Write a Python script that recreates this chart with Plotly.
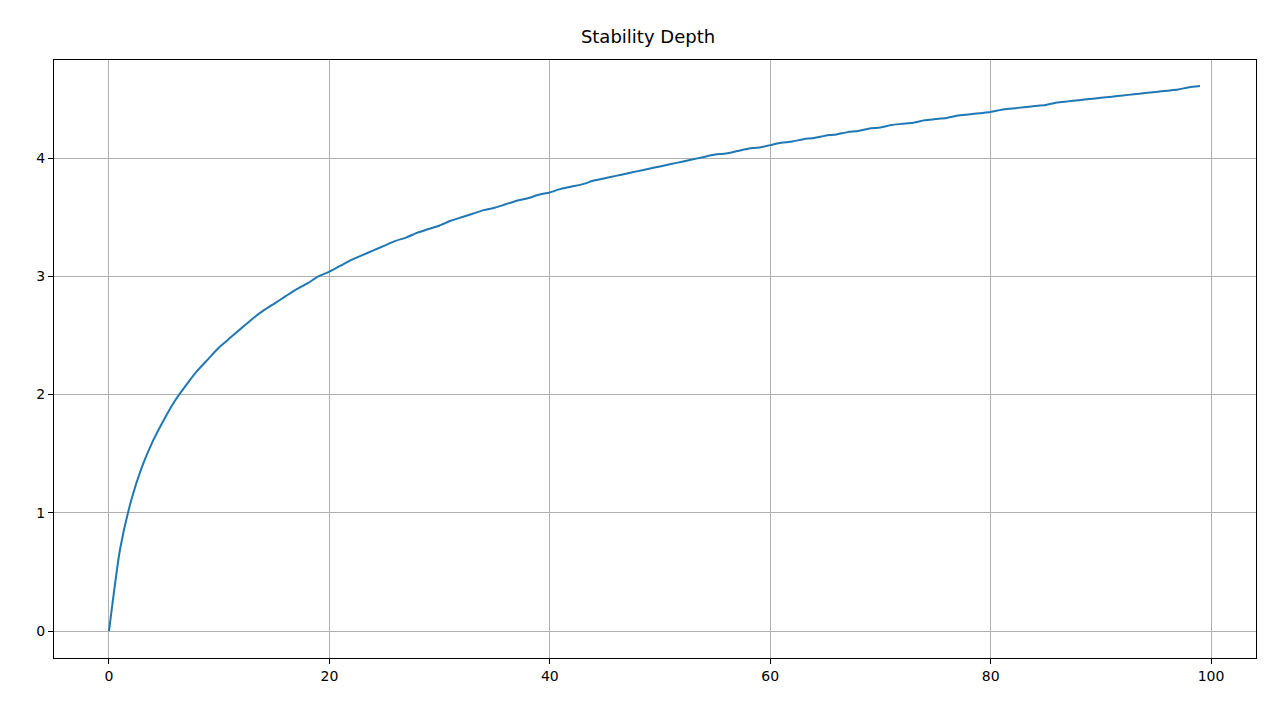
import plotly.graph_objects as go

steps = list(range(100))
depth = [0.00,0.69,1.10,1.39,1.61,1.79,1.95,2.08,2.20,2.30,2.40,2.48,2.56,2.64,2.71,2.77,2.83,2.89,2.94,3.00,
         3.04,3.09,3.14,3.18,3.22,3.26,3.30,3.33,3.37,3.40,3.43,3.47,3.50,3.53,3.56,3.58,3.61,3.64,3.66,3.69,
         3.71,3.74,3.76,3.78,3.81,3.83,3.85,3.87,3.89,3.91,3.93,3.95,3.97,3.99,4.01,4.03,4.04,4.06,4.08,4.09,
         4.11,4.13,4.14,4.16,4.17,4.19,4.20,4.22,4.23,4.25,4.26,4.28,4.29,4.30,4.32,4.33,4.34,4.36,4.37,4.38,
         4.39,4.41,4.42,4.43,4.44,4.45,4.47,4.48,4.49,4.50,4.51,4.52,4.53,4.54,4.55,4.56,4.57,4.58,4.60,4.61]
title = "Stability Depth"

fig = go.Figure(go.Scatter(x=steps, y=depth, mode="lines",
                           line=dict(color="#1f77b4", width=2, shape="spline", smoothing=0.6)))
ax = dict(showgrid=True, gridcolor="#b0b0b0", gridwidth=1, showline=True, linecolor="black", mirror=True,
          ticks="outside", ticklen=5, tickcolor="black", zeroline=False, tickfont=dict(size=14, color="black"))
fig.update_layout(
    width=1280, height=720, plot_bgcolor="white", paper_bgcolor="white",
    font=dict(family="DejaVu Sans", color="black"),
    title=dict(text=title, x=0.5, xanchor="center", y=1-29/720, yanchor="middle", font=dict(size=18)),
    margin=dict(l=46, r=32, t=52, b=70), showlegend=False,
    xaxis=dict(range=[-4.99, 104.08], tickvals=[0,20,40,60,80,100], **ax),
    yaxis=dict(range=[-0.228, 4.83], tickvals=[0,1,2,3,4], **ax),
)
fig.write_html("out.html")
